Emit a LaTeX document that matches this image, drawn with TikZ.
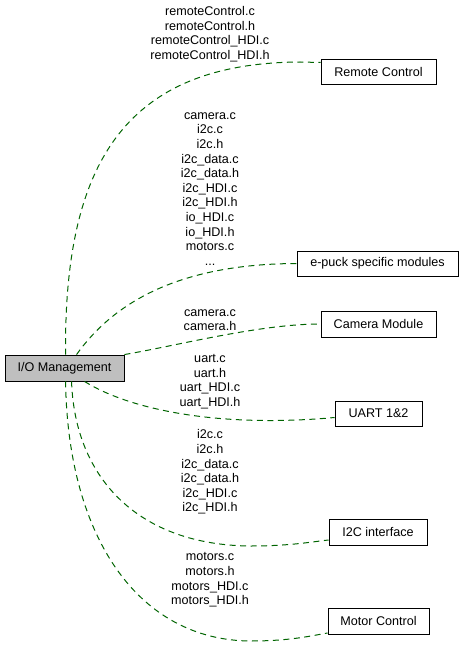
\documentclass[tikz,border=0pt]{standalone}
\usepackage{fontspec}
\setmainfont{Liberation Sans}
\usetikzlibrary{calc}
\definecolor{edgegreen}{HTML}{006400}
\definecolor{iofill}{HTML}{BFBFBF}
\begin{document}
\begin{tikzpicture}[x=1pt,y=-1pt,
  box/.style={draw=black,line width=0.9pt,inner sep=0pt,minimum width=#1,font=\fontsize{12.6}{14.6}\selectfont},
  lbl/.style={align=center,inner sep=0pt,font=\fontsize{12.6}{14.6}\selectfont},
  dep/.style={draw=edgegreen,line width=1pt,dash pattern=on 6pt off 4.5pt}]
\useasboundingbox (0,0) rectangle (465,647);
\node[box=119pt,minimum height=26pt,fill=iofill] (io) at (64.5,368) {I/O Management};
\node[box=115pt,minimum height=25pt] (rc) at (378.5,71.5) {Remote Control};
\node[box=161pt,minimum height=25pt] (ep) at (377.5,263.5) {e-puck specific modules};
\node[box=115pt,minimum height=26pt] (cam) at (378.5,324) {Camera Module};
\node[box=87pt,minimum height=25pt] (uart) at (378.5,413.5) {UART 1\&2};
\node[box=98pt,minimum height=26pt] (i2c) at (378,532) {I2C interface};
\node[box=101pt,minimum height=26pt] (mot) at (378.5,621) {Motor Control};

\coordinate (s1) at ($(io.north west)+(61,0)$);
\coordinate (s2) at ($(io.north west)+(72,0)$);
\coordinate (s4) at ($(io.south west)+(80,0)$);
\coordinate (s5) at ($(io.south west)+(67,0)$);
\coordinate (s6) at ($(io.south west)+(61,0)$);

\draw[dep] (s1) .. controls (64,170) and (120,63) .. (300,62) -- ($(rc.west)+(0,-9)$);
\draw[dep] (s2) .. controls (112,305) and (175,264) .. (ep.west);
\draw[dep] (io.north east) .. controls (180,345) and (260,324) .. (cam.west);
\draw[dep] (s4) .. controls (130,410) and (220,428) .. ($(uart.west)+(0,4)$);
\draw[dep] (s5) .. controls (75,480) and (140,545) .. (250,546) .. controls (290,546) and (310,542) .. ($(i2c.west)+(0,8)$);
\draw[dep] (s6) .. controls (68,540) and (140,640) .. (250,641) .. controls (290,641) and (310,636) .. ($(mot.west)+(0,12)$);

\node[lbl] (l1) at (210,34) {remoteControl.c\\remoteControl.h\\remoteControl\_HDI.c\\remoteControl\_HDI.h};
\node[lbl] (l2) at (210,189) {camera.c\\i2c.c\\i2c.h\\i2c\_data.c\\i2c\_data.h\\i2c\_HDI.c\\i2c\_HDI.h\\io\_HDI.c\\io\_HDI.h\\motors.c\\...};
\node[lbl] (l3) at (210,320) {camera.c\\camera.h};
\node[lbl] (l4) at (210,381.5) {uart.c\\uart.h\\uart\_HDI.c\\uart\_HDI.h};
\node[lbl] (l5) at (210,472) {i2c.c\\i2c.h\\i2c\_data.c\\i2c\_data.h\\i2c\_HDI.c\\i2c\_HDI.h};
\node[lbl] (l6) at (210,580) {motors.c\\motors.h\\motors\_HDI.c\\motors\_HDI.h};
\end{tikzpicture}
\end{document}
